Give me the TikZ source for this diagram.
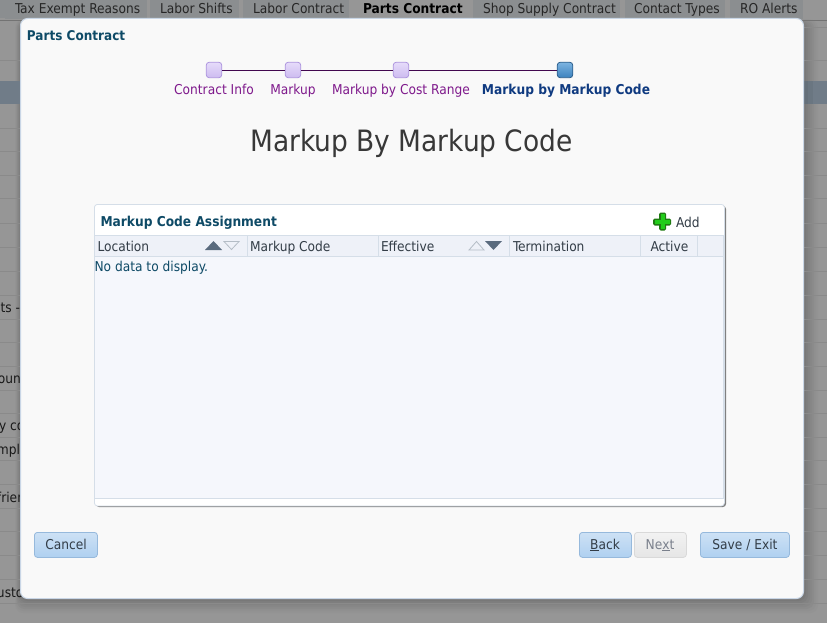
\documentclass[tikz,border=0pt]{standalone}
\usepackage{fontspec}
\setmainfont{DejaVu Sans Condensed}
\usetikzlibrary{shapes.geometric}
\definecolor{bgG}{HTML}{969696}
\definecolor{rowL}{HTML}{8A8A8A}
\definecolor{bandB}{HTML}{707C88}
\definecolor{tabG}{HTML}{8B8E90}
\definecolor{dlgF}{HTML}{F9F9F9}
\definecolor{dlgE}{HTML}{C9D6E6}
\definecolor{tealT}{HTML}{0E4A66}
\definecolor{purpT}{HTML}{7F1A8C}
\definecolor{navyT}{HTML}{0F3A80}
\definecolor{hdrF}{HTML}{EEF1F8}
\definecolor{bodyF}{HTML}{F5F7FC}
\definecolor{gridL}{HTML}{D5DEE8}
\definecolor{darkT}{HTML}{333D47}
\definecolor{arrD}{HTML}{5A6B7E}
\definecolor{arrL}{HTML}{B4BDC6}
\definecolor{stepE}{HTML}{AE96DE}
\definecolor{stepT}{HTML}{E6DCFA}
\definecolor{stepB}{HTML}{CDBBF0}
\definecolor{curE}{HTML}{2D5F8C}
\definecolor{curT}{HTML}{7DB4E1}
\definecolor{curB}{HTML}{3C82BE}
\definecolor{lineP}{HTML}{42084F}
\definecolor{btnE}{HTML}{96B9DC}
\definecolor{btnT}{HTML}{CDE1F5}
\definecolor{btnB}{HTML}{AFD0F0}
\definecolor{nextT}{HTML}{7A808C}
\definecolor{plusE}{HTML}{1F7A12}
\definecolor{plusF}{HTML}{22CC1A}
\tikzset{
  x=1pt,y=-1pt,
  txt/.style={anchor=base west,inner sep=0pt,outer sep=0pt,font=\fontsize{13.6}{16}\selectfont,text=darkT},
  bgtxt/.style={txt,text=black!90},
  tabtxt/.style={txt,text=black!85},
  steplbl/.style={anchor=base,inner sep=0pt,font=\fontsize{13.6}{16}\selectfont,text=purpT},
  stepnode/.style={draw=stepE,top color=stepT,bottom color=stepB,rounded corners=3pt,minimum size=15.5pt,inner sep=0pt,line width=.8pt},
  curnode/.style={draw=curE,top color=curT,bottom color=curB,rounded corners=3pt,minimum size=15.5pt,inner sep=0pt,line width=.8pt},
  stepline/.style={draw=lineP,line width=.8pt},
  btn/.style={draw=btnE,top color=btnT,bottom color=btnB,rounded corners=3pt,inner sep=0pt,line width=.8pt,minimum height=25pt,anchor=north west},
  btnoff/.style={draw=black!15,top color=black!5,bottom color=black!10,rounded corners=3pt,inner sep=0pt,line width=.8pt,minimum height=25pt,anchor=north west},
  btnlbl/.style={anchor=base,inner sep=0pt,font=\fontsize{13.6}{16}\selectfont,text=darkT},
  hline/.style={rowL,line width=.8pt},
  gridline/.style={gridL,line width=.8pt},
  pale/.style={draw=arrL,fill=none,line width=.8pt}
}
\begin{document}
\begin{tikzpicture}
\clip (0,0) rectangle (827,623);
% page behind the veil
\fill[bgG] (0,0) rectangle (827,623);
% dialog shadow, drawn in solid greys
\foreach \g/\p in {12/98,10/96,8/93,6/90,4/87,2/84,0/80}
  \fill[bgG!\p!black,rounded corners=8pt] (20-0.4*\g,22-0.2*\g) rectangle (806+\g,601+\g);
\fill[bandB] (0,81) rectangle (827,104);
\fill[bandB!90!black] (803,81) rectangle (808,104);
\fill[bandB!95!black] (808,81) rectangle (813,104);
\foreach \yy in {60,128,151,175,198,223,247,271,295,319,342,366,390,413,437,460,484,508,531,555,579,603}
  \draw[hline] (0,\yy) -- (827,\yy);
\draw[black!55,line width=.8pt] (0,20) -- (827,20);
\draw[hline] (803,27) -- (827,27);
% tabs
\fill[tabG] (0,0) rectangle (5,18);
\fill[tabG] (5,0) rectangle (147,19);
\fill[tabG] (150,0) rectangle (239,19);
\fill[tabG] (243,0) rectangle (349,19);
\fill[bgG] (353,0) rectangle (472,22);
\fill[tabG] (473,0) rectangle (620,19);
\fill[tabG] (625,0) rectangle (725,19);
\fill[tabG] (730,0) rectangle (803,19);
\node[tabtxt] (tabA) at (15,13.5) {Tax Exempt Reasons};
\node[tabtxt] (tabB) at (160,13.5) {Labor Shifts};
\node[tabtxt] (tabC) at (253,13.5) {Labor Contract};
\node[txt,text=black,font=\fontsize{13.6}{16}\selectfont\bfseries] (tabD) at (363,13.5) {Parts Contract};
\node[tabtxt] (tabE) at (483,13.5) {Shop Supply Contract};
\node[tabtxt] (tabF) at (634,13.5) {Contact Types};
\node[tabtxt] (tabG) at (740,13.5) {RO Alerts};
% clipped row texts
\node[bgtxt,anchor=base east] (r1) at (20,312) {ts -};
\node[bgtxt,anchor=base west] (r2) at (-2,383) {oun};
\node[bgtxt,anchor=base west] (r3) at (-1,430) {y co};
\node[bgtxt,anchor=base west] (r4) at (-3,454) {mpl};
\node[bgtxt,anchor=base west] (r5) at (-3,502) {frien};
\node[bgtxt,anchor=base west] (r6) at (-3,597) {usto};
% dialog
\node[draw=dlgE,fill=dlgF,rounded corners=7pt,line width=1pt,minimum width=783pt,minimum height=580pt,inner sep=0pt,anchor=north west] (dialog) at (20,18) {};
\node[txt,text=tealT,font=\fontsize{13.4}{16}\selectfont\bfseries] (dlgtitle) at (27,40.5) {Parts Contract};
% train stops
\node[stepnode] (s1) at (214,70) {};
\node[stepnode] (s2) at (293,70) {};
\node[stepnode] (s3) at (401,70) {};
\node[curnode] (s4) at (565,70) {};
\draw[stepline] (s1) -- (s2);
\draw[stepline] (s2) -- (s3);
\draw[stepline] (s3) -- (s4);
\node[steplbl] (l1) at (214,94.5) {Contract Info};
\node[steplbl] (l2) at (293,94.5) {Markup};
\node[steplbl] (l3) at (401,94.5) {Markup by Cost Range};
\node[steplbl,text=navyT,font=\fontsize{13.6}{16}\selectfont\bfseries] (l4) at (566,94.5) {Markup by Markup Code};
% heading
\node[anchor=base,inner sep=0pt,text=black!78,font=\fontsize{29.4}{36}\selectfont] (heading) at (411.5,152) {Markup By Markup Code};
% panel
\fill[black!50,rounded corners=3pt] (96,206) rectangle (726,507);
\node[draw=gridL,fill=white,rounded corners=3pt,line width=.8pt,minimum width=630pt,minimum height=301.5pt,inner sep=0pt,anchor=north west] (panel) at (94,204) {};
\node[txt,text=tealT,font=\fontsize{13.6}{16}\selectfont\bfseries] (ptitle) at (100.5,226.5) {Markup Code Assignment};
\fill[hdrF] (95,236) rectangle (723.5,256.5);
\fill[bodyF] (95,257) rectangle (723.5,498);
\draw[gridline] (94.5,235.5) -- (723.5,235.5);
\draw[gridline] (94.5,256.5) -- (723.5,256.5);
\draw[gridline] (94.5,498.5) -- (723.5,498.5);
\foreach \xx in {247.5,378.5,509.5,640.5,697.5}
  \draw[gridline] (\xx,236) -- (\xx,256);
\draw[gridline] (94.5,235.5) -- (94.5,498.5);
\draw[gridline] (723.5,235.5) -- (723.5,498.5);
\node[txt] (h1) at (97.5,251) {Location};
\node[txt] (h2) at (250,251) {Markup Code};
\node[txt] (h3) at (381,251) {Effective};
\node[txt] (h4) at (513,251) {Termination};
\node[txt] (h5) at (650.5,251) {Active};
\node[txt,text=tealT] (nodata) at (94.5,271) {No data to display.};
% sort arrows
\fill[arrD] (205,250) -- (213.5,241) -- (222,250) -- cycle;
\draw[pale] (224,241.5) -- (239,241.5) -- (231.5,249.5) -- cycle;
\draw[pale] (469,250) -- (476.5,241.5) -- (484,250) -- cycle;
\fill[arrD] (485,241) -- (502,241) -- (493.5,250) -- cycle;
% add icon
\fill[plusE,rounded corners=1.5pt] (659,212.5) rectangle (666,230.5);
\fill[plusE,rounded corners=1.5pt] (653,218.5) rectangle (671,225.5);
\fill[plusF] (660.5,214) rectangle (664.5,229);
\fill[plusF] (654.5,220) rectangle (669.5,224);
\node[txt] (add) at (676,227) {Add};
% buttons
\node[btn,minimum width=63pt] (cancel) at (34,532) {};
\node[btnlbl] (cancelt) at (66,549) {Cancel};
\node[btn,minimum width=52pt] (back) at (579,532) {};
\node[btnlbl] (backt) at (605,549) {\underline{B}ack};
\node[btnoff,minimum width=52pt] (next) at (634,532) {};
\node[btnlbl,text=nextT] (nextt) at (660,549) {Ne\underline{x}t};
\node[btn,minimum width=89pt] (save) at (700,532) {};
\node[btnlbl] (savet) at (745,549) {Save / Exit};
\end{tikzpicture}
\end{document}
